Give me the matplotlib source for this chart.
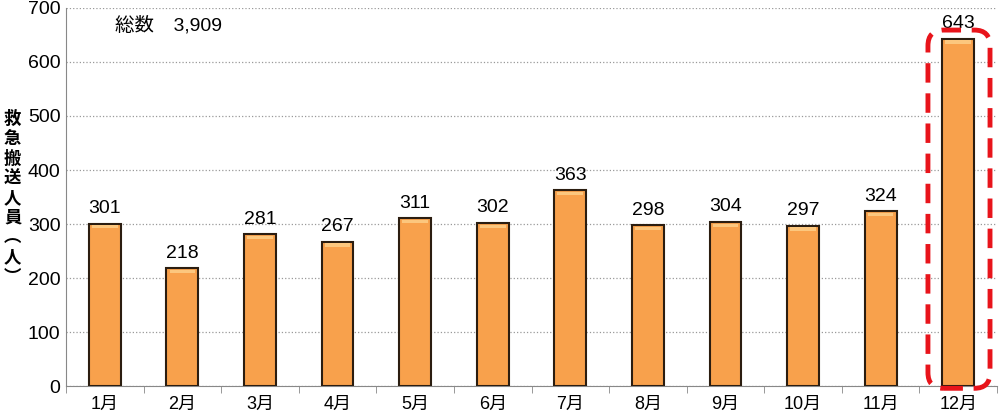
import matplotlib.pyplot as plt
from matplotlib.patches import FancyBboxPatch

plt.rcParams['font.family'] = ['Liberation Sans', 'Noto Sans CJK JP', 'DejaVu Sans']

# 月別の救急搬送人員
months = ['1月', '2月', '3月', '4月', '5月', '6月', '7月', '8月', '9月', '10月', '11月', '12月']
counts = [301, 218, 281, 267, 311, 302, 363, 298, 304, 297, 324, 643]
total_label = '総数　3,909'
ylabel_chars = ['救', '急', '搬', '送', '人', '員', '︵', '人', '︶']

fig = plt.figure(figsize=(10, 4.17), dpi=100)
ax = fig.add_axes([0.066, 0.074, 0.931, 0.907])

x = list(range(len(months)))
ax.bar(x, counts, width=0.41, color='#F8A14C', edgecolor='#2b1d10', linewidth=1.5, zorder=3)
# 上端のハイライト（立体感）
ax.bar(x, [6] * len(counts), bottom=[c - 9 for c in counts], width=0.33,
       color='#FCC77E', linewidth=0, zorder=4)

for xi, c in zip(x, counts):
    ax.text(xi, c + 12, str(c), ha='center', va='bottom', fontsize=14)

ax.set_xlim(-0.5, len(months) - 0.5)
ax.set_ylim(0, 700)
ax.set_yticks(range(0, 701, 100))
ax.tick_params(axis='y', labelsize=14, length=0, pad=4)
ax.set_xticks(x)
ax.set_xticklabels(months, fontsize=13)
ax.tick_params(axis='x', length=0, pad=7)
ax.set_xticks([i + 0.5 for i in range(-1, len(months))], minor=True)
ax.tick_params(axis='x', which='minor', length=5, color='#888888', direction='out')

ax.yaxis.grid(True, linestyle=':', color='#999999', linewidth=0.9, zorder=0)
ax.set_axisbelow(True)
for s in ['top', 'right']:
    ax.spines[s].set_visible(False)
ax.spines['left'].set_color('#888888')
ax.spines['bottom'].set_color('#888888')

ax.text(0.13, 668, total_label, fontsize=14, ha='left', va='center')

fig.text(0.004, 0.525, '\n'.join(ylabel_chars), fontsize=12.5, ha='left', va='center',
         linespacing=1.12, weight='bold', family='Noto Sans CJK JP')

# 12月を強調する赤い破線枠
box = FancyBboxPatch((10.61, -4), 0.8, 663, boxstyle='round,pad=0,rounding_size=0.2',
                     mutation_aspect=145, fill=False, edgecolor='#E8141B', linewidth=3.5,
                     linestyle=(0, (4, 2.2)), zorder=5, clip_on=False)
ax.add_patch(box)

plt.savefig('out.png', dpi=100)
